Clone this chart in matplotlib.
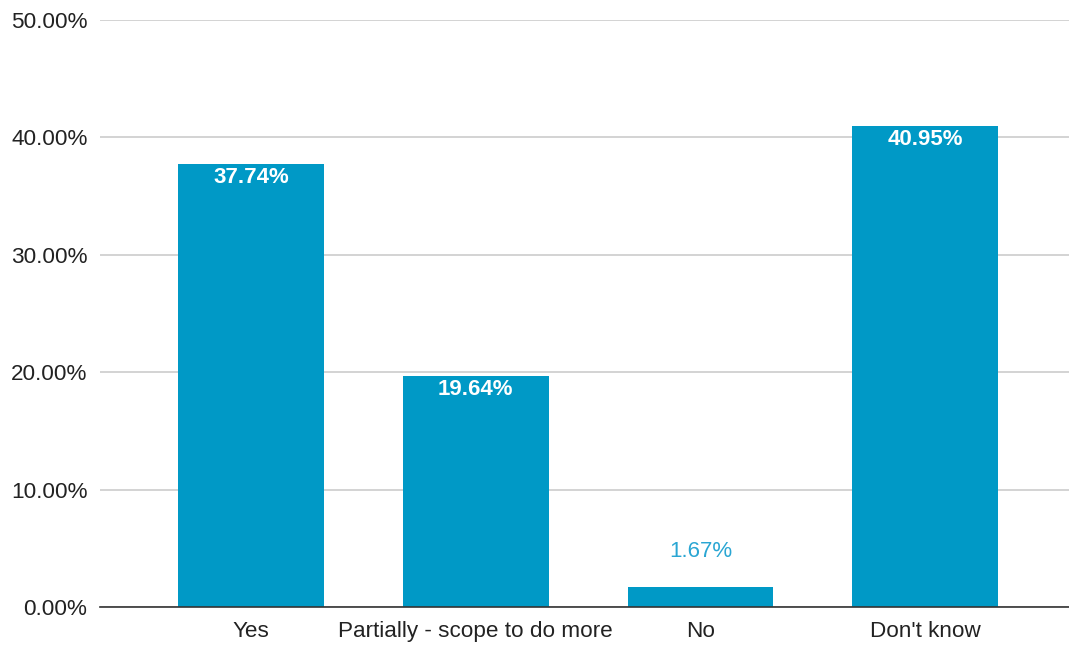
import matplotlib
matplotlib.use("Agg")
import matplotlib.pyplot as plt
from matplotlib.ticker import FuncFormatter, MultipleLocator

categories = ["Yes", "Partially - scope to do more", "No", "Don't know"]
values = [37.74, 19.64, 1.67, 40.95]

BAR = "#0099C6"
plt.rcParams['font.family'] = ['Liberation Sans', 'DejaVu Sans']

fig = plt.figure(figsize=(10.69, 6.46), dpi=100)
ax = fig.add_axes([100/1069, 1-607/646, 1-100/1069, (607-20)/646])

x = list(range(len(categories)))
bars = ax.bar(x, values, width=0.648, color=BAR, zorder=3)
ax.set_xlim(-0.672, 3.64)
ax.set_ylim(0, 50)
ax.yaxis.set_major_locator(MultipleLocator(10))
ax.yaxis.set_major_formatter(FuncFormatter(lambda v, p: f"{v:.2f}%"))
ax.grid(axis='y', color='#cccccc', linewidth=1.2, zorder=0)
for s in ['top', 'right', 'left']:
    ax.spines[s].set_visible(False)
ax.spines['bottom'].set_color('#333333')
ax.spines['bottom'].set_linewidth(1.2)
ax.spines['bottom'].set_zorder(4)
ax.tick_params(axis='both', length=0, labelsize=16.2, colors='#222222')
ax.tick_params(axis='y', pad=9)
ax.tick_params(axis='x', pad=10)
ax.set_xticks(x)
ax.set_xticklabels(categories)

for xi, v in zip(x, values):
    if v > 5:
        ax.annotate(f"{v:.2f}%", (xi, v), xytext=(0, -3), textcoords='offset pixels',
                    ha='center', va='top', color='white', fontsize=16, fontweight='bold', zorder=5)
    else:
        ax.annotate(f"{v:.2f}%", (xi, v), xytext=(0, 25), textcoords='offset pixels',
                    ha='center', va='bottom', color='#2AA6D3', fontsize=16, zorder=5)

fig.savefig("out.png", dpi=100)
